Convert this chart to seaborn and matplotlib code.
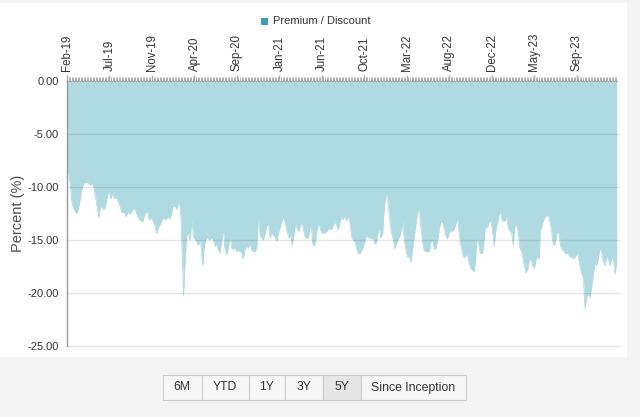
import numpy as np
import pandas as pd
import matplotlib
matplotlib.use("Agg")
import matplotlib.pyplot as plt
import matplotlib.dates as mdates
from matplotlib.patches import Rectangle
import seaborn as sns

# ---------------- data ----------------
start_date = "2019-02-20"
day_offset = [
    0, 3, 10, 15, 21, 32, 37, 43, 48, 56, 70, 76, 83, 87, 92, 98, 105, 109, 114, 120,
    125, 131, 138, 144, 151, 156, 161, 169, 175, 180, 189, 194, 202, 208, 213, 221, 227, 233, 240, 249,
    257, 265, 271, 279, 284, 290, 295, 301, 306, 312, 320, 326, 332, 339, 345, 350, 356, 361, 369, 375,
    379, 384, 389, 394, 400, 405, 412, 416, 424, 433, 440, 447, 452, 458, 462, 469, 477, 482, 488, 493,
    498, 504, 510, 515, 520, 526, 531, 537, 543, 548, 553, 559, 564, 570, 575, 581, 586, 592, 597, 603,
    608, 614, 619, 625, 630, 636, 641, 647, 652, 658, 663, 669, 674, 680, 685, 691, 696, 702, 707, 712,
    718, 724, 731, 737, 742, 748, 753, 758, 764, 770, 776, 782, 787, 795, 800, 805, 809, 815, 820, 826,
    831, 837, 842, 850, 856, 861, 866, 872, 877, 883, 888, 894, 899, 905, 910, 916, 921, 927, 932, 938,
    943, 949, 954, 960, 965, 971, 976, 982, 987, 992, 998, 1004, 1009, 1015, 1020, 1025, 1029, 1033, 1040, 1045,
    1051, 1056, 1062, 1067, 1075, 1080, 1086, 1091, 1097, 1103, 1106, 1110, 1116, 1121, 1127, 1133, 1139, 1144, 1150, 1155,
    1160, 1166, 1172, 1177, 1185, 1193, 1199, 1205, 1210, 1215, 1221, 1226, 1232, 1238, 1243, 1248, 1253, 1258, 1264, 1269,
    1275, 1280, 1286, 1291, 1297, 1302, 1308, 1313, 1319, 1324, 1330, 1335, 1341, 1346, 1351, 1355, 1361, 1369, 1375, 1379,
    1385, 1390, 1396, 1401, 1407, 1412, 1417, 1423, 1426, 1432, 1437, 1443, 1448, 1454, 1459, 1465, 1470, 1476, 1481, 1487,
    1492, 1498, 1503, 1509, 1512, 1518, 1523, 1529, 1534, 1540, 1545, 1551, 1556, 1559, 1565, 1569, 1575, 1580, 1586, 1591,
    1597, 1602, 1607, 1613, 1616, 1621, 1627, 1633, 1638, 1644, 1649, 1654, 1660, 1666, 1671, 1677, 1681, 1686, 1692, 1697,
    1701, 1704, 1707, 1712, 1717, 1723, 1728, 1734, 1739, 1745, 1750, 1756, 1761, 1766, 1772, 1778, 1783, 1789, 1794, 1799,
    1805, 1811,
]
premium_discount = [
    -7.9, -8.3, -9.6, -11.2, -12.0, -12.5, -12.1, -11.2, -10.3, -9.6, -9.6, -9.8, -9.7, -9.8, -10.6, -11.7, -12.9, -12.0, -11.8, -12.1,
    -12.0, -11.2, -10.2, -11.1, -10.6, -11.1, -10.9, -11.4, -11.8, -12.4, -12.4, -12.8, -12.3, -12.6, -12.3, -12.0, -12.3, -12.8, -13.1, -13.3,
    -12.5, -12.3, -13.1, -12.9, -13.3, -13.6, -14.4, -13.8, -13.6, -13.2, -12.9, -13.1, -12.8, -13.0, -12.4, -11.8, -11.8, -12.1, -11.3, -12.7,
    -15.9, -20.2, -16.9, -14.7, -14.2, -15.0, -13.1, -14.7, -15.0, -15.5, -15.0, -17.4, -15.7, -14.9, -14.7, -15.0, -14.8, -15.0, -15.6, -15.4,
    -15.9, -16.2, -15.0, -13.9, -15.7, -16.4, -15.9, -14.5, -15.8, -15.9, -15.6, -16.1, -15.9, -16.1, -16.2, -16.8, -15.9, -15.5, -15.8, -15.3,
    -15.9, -16.1, -16.1, -15.8, -12.8, -14.5, -14.8, -15.0, -14.5, -13.7, -13.3, -14.8, -14.4, -14.5, -14.7, -15.1, -14.4, -13.8, -13.3, -12.8,
    -13.3, -14.0, -14.8, -14.5, -15.5, -14.4, -13.4, -13.9, -14.2, -13.5, -13.5, -14.5, -14.8, -14.8, -14.0, -13.5, -15.3, -15.6, -14.8, -13.6,
    -13.6, -14.2, -14.4, -14.3, -14.2, -14.0, -13.9, -14.0, -13.6, -13.3, -13.6, -14.0, -13.4, -12.7, -13.1, -12.7, -13.2, -12.7, -13.3, -14.7,
    -15.0, -15.2, -15.8, -16.3, -16.3, -15.9, -15.6, -15.1, -14.4, -14.8, -14.8, -14.9, -14.8, -15.4, -15.2, -14.2, -13.7, -14.8, -14.4, -12.0,
    -10.6, -11.1, -12.7, -14.0, -15.0, -15.8, -15.3, -14.9, -14.6, -13.9, -13.2, -14.7, -15.8, -16.6, -16.5, -17.1, -15.7, -14.7, -13.4, -12.4,
    -11.9, -13.9, -15.3, -16.0, -16.1, -16.1, -15.2, -15.0, -15.9, -15.8, -15.0, -14.1, -13.2, -13.4, -14.0, -14.6, -14.9, -14.4, -14.1, -14.2,
    -14.0, -13.6, -12.9, -14.1, -15.5, -16.1, -16.7, -16.5, -16.3, -17.1, -17.7, -17.8, -18.0, -16.9, -14.6, -15.2, -16.2, -16.3, -14.6, -13.6,
    -13.9, -13.3, -13.2, -13.9, -15.6, -14.2, -13.5, -12.7, -12.1, -13.0, -13.2, -13.2, -12.8, -13.9, -14.1, -14.3, -15.5, -13.6, -13.6, -14.3,
    -15.8, -16.1, -16.9, -17.7, -18.1, -17.7, -16.9, -16.8, -17.4, -17.7, -16.8, -16.6, -16.8, -14.1, -13.6, -13.2, -12.8, -12.7, -12.7, -13.2,
    -14.3, -15.5, -15.4, -14.6, -14.1, -14.4, -15.7, -15.9, -16.1, -16.3, -16.2, -16.5, -16.6, -16.7, -16.7, -16.5, -16.1, -16.9, -17.7, -18.3,
    -18.5, -20.1, -21.5, -20.4, -20.1, -20.4, -19.5, -18.3, -17.2, -17.4, -16.8, -15.8, -16.1, -16.9, -17.4, -16.6, -16.7, -17.4, -16.9, -16.4,
    -18.2, -17.2,
]
x_tick_labels = ["Feb-19", "Jul-19", "Nov-19", "Apr-20", "Sep-20", "Jan-21", "Jun-21",
                 "Oct-21", "Mar-22", "Aug-22", "Dec-22", "May-23", "Sep-23"]
y_tick_values = [0, -5, -10, -15, -20, -25]
series_name = "Premium / Discount"
y_title = "Percent (%)"
range_buttons = ["6M", "YTD", "1Y", "3Y", "5Y", "Since Inception"]
selected_button = "5Y"

# ---------------- frame ----------------
base = pd.to_datetime(start_date)
df = pd.DataFrame({
    "date": base + pd.to_timedelta(day_offset, unit="D"),
    "value": premium_discount,
})

sns.set_style("white")
plt.rcParams["font.family"] = ["Liberation Sans", "DejaVu Sans"]

W, H = 640, 417
fig = plt.figure(figsize=(W / 100, H / 100), dpi=100, facecolor="#f4f4f4")

def fx(x):
    return x / W

def fy(y):
    return 1 - y / H

# white panel
fig.add_artist(Rectangle((0, fy(357)), fx(627), fy(3) - fy(357), transform=fig.transFigure,
                         facecolor="white", edgecolor="none", zorder=0))

ax = fig.add_axes([fx(67), fy(346), fx(617) - fx(67), fy(81) - fy(346)])
ax.set_facecolor("none")

fill_color = "#b0dae1"
ax.fill_between(df["date"], df["value"], 0, color=fill_color, lw=0, zorder=1)
sns.lineplot(data=df, x="date", y="value", ax=ax, color=fill_color, lw=0.6, zorder=1)

ax.set_xlim(base, base + pd.Timedelta(days=1812))
ax.set_ylim(-25, 0)

# y axis
ax.set_yticks(y_tick_values)
ax.set_yticklabels([f"{v:.2f}" for v in y_tick_values])
for v in y_tick_values[1:]:
    ax.axhline(v, color=(0, 0, 0, 0.10), lw=1, zorder=2, xmax=1.005, clip_on=False)
ax.tick_params(axis="y", direction="out", length=5, width=1, color="#999999",
               labelsize=8, labelcolor="#333333", pad=1)
ax.set_ylabel("")
fig.text(fx(18), fy(213), y_title, fontsize=10.5, color="#4d4d4d", rotation=90,
         ha="center", va="center")

# x axis on top
ax.xaxis.tick_top()
tick_dates = [base + pd.Timedelta(days=140 * i) for i in range(len(x_tick_labels))]
ax.set_xticks(tick_dates)
ax.set_xticklabels(x_tick_labels, rotation=90, fontsize=8.3, color="#333333")
ax.xaxis.set_minor_locator(mdates.DayLocator(interval=5))
ax.tick_params(axis="x", which="major", direction="out", length=4, width=1, color="#aaaaaa", pad=3)
ax.tick_params(axis="x", which="minor", direction="out", length=3, width=0.7, color="#b0b0b0")
ax.set_xlabel("")

for side in ["right", "bottom"]:
    ax.spines[side].set_visible(False)
ax.spines["left"].set_color("#999999")
ax.spines["left"].set_linewidth(1)
ax.spines["top"].set_color("#aaaaaa")
ax.spines["top"].set_linewidth(0.8)
ax.spines["left"].set_zorder(3)

# legend
fig.add_artist(Rectangle((fx(261), fy(25)), fx(7), fy(18) - fy(25), transform=fig.transFigure,
                         facecolor="#3a9fb6", edgecolor="none"))
fig.text(fx(273), fy(21.5), series_name, fontsize=8, color="#333333", va="center", ha="left")

# range buttons
edges = [163, 201.5, 248.5, 285, 323, 360.5, 466]
top_px, bot_px = 375, 400
for i, label in enumerate(range_buttons):
    x0, x1 = edges[i], edges[i + 1]
    fc = "#e6e6e6" if label == selected_button else "#f7f7f7"
    fig.add_artist(Rectangle((fx(x0), fy(bot_px)), fx(x1 - x0), fy(top_px) - fy(bot_px),
                             transform=fig.transFigure, facecolor=fc, edgecolor="#cccccc", lw=0.8))
    fig.text(fx((x0 + x1) / 2), fy((top_px + bot_px) / 2), label, fontsize=8.8,
             color="#333333", ha="center", va="center")

fig.savefig("out.png", dpi=100, facecolor=fig.get_facecolor())
